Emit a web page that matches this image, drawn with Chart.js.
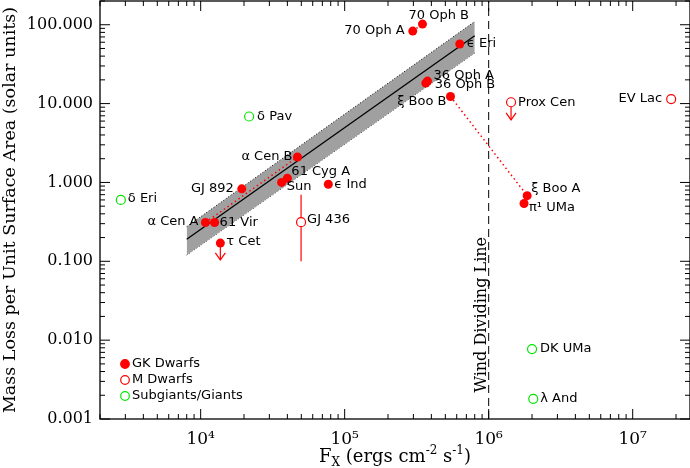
<!DOCTYPE html>
<html>
<head>
<meta charset="utf-8">
<script src="https://cdn.jsdelivr.net/npm/chart.js@4.4.0/dist/chart.umd.min.js"></script>
<style>
  html, body { margin: 0; padding: 0; background: #fff; }
</style>
</head>
<body>
<canvas id="massLoss" width="690" height="468"></canvas>
<script>
// values (Fx in ergs cm^-2 s^-1, mass loss in solar units)
const gkNames = ['70 Oph A', '70 Oph B', 'ϵ Eri', '36 Oph A', '36 Oph B', 'ξ Boo B', 'α Cen B', '61 Cyg A',
  'Sun', 'GJ 892', 'ϵ Ind', 'α Cen A', '61 Vir', 'τ Cet', 'ξ Boo A', 'π¹ UMa'];
const gkFx = [2.97e5, 3.47e5, 6.3e5, 3.76e5, 3.66e5, 5.43e5, 4.7e4, 4.0e4,
  3.65e4, 1.93e4, 7.7e4, 1.08e4, 1.25e4, 1.37e4, 1.85e6, 1.76e6];
const gkMdot = [83, 102, 57, 19.3, 18.2, 12.3, 2.1, 1.13,
  1.0, 0.83, 0.95, 0.31, 0.31, 0.17, 0.68, 0.54];

const mNames = ['Prox Cen', 'EV Lac', 'GJ 436'];
const mFx = [1.43e6, 1.85e7, 4.98e4];
const mMdot = [10.4, 11.4, 0.313];

const giantNames = ['δ Pav', 'δ Eri', 'DK UMa', 'λ And'];
const giantFx = [2.17e4, 2790, 2.0e6, 2.04e6];
const giantMdot = [6.86, 0.60, 0.0077, 0.0018];

// power law fit and its uncertainty band
const fitFx = [8e3, 8e5];
const fitMdot = [0.19, 72.5];
const bandLow = [0.12, 43.8];
const bandHigh = [0.275, 110];

// pairs joined by a dotted line
const pairs = [['70 Oph A', '70 Oph B'], ['α Cen A', 'α Cen B'], ['ξ Boo B', 'ξ Boo A'], ['36 Oph A', '36 Oph B']];

// upper limits (arrows) and the GJ 436 error bar
const limFx = [1.37e4, 1.43e6];
const limFrom = [0.17, 10.4];
const limTo = [0.104, 6.2];
const errFx = 4.98e4;
const errRange = [0.1, 0.7];

const windFx = 1e6;

const xTickVals = [1e4, 1e5, 1e6, 1e7];
const xTickText = ['10⁴', '10⁵', '10⁶', '10⁷'];
const yTickVals = [0.001, 0.01, 0.1, 1, 10, 100];
const yTickText = ['0.001', '0.010', '0.100', '1.000', '10.000', '100.000'];

const serif = "'DejaVu Serif', serif";
const sans = "'DejaVu Sans', sans-serif";
const RED = '#ff0000';
const GREEN = '#00e600';

// label offsets from the marker: dx, dy, align
const labelPos = {
  '70 Oph A': [-8, 0, 'right'], '70 Oph B': [-14, -8, 'left'], 'ϵ Eri': [7, 0, 'left'],
  '36 Oph A': [6, -5, 'left'], '36 Oph B': [9, 2, 'left'], 'ξ Boo B': [-4, 5, 'right'],
  'α Cen B': [-5, 0, 'right'], '61 Cyg A': [4, -7, 'left'], 'Sun': [5, 4, 'left'],
  'GJ 892': [-8, 0, 'right'], 'ϵ Ind': [6, 0, 'left'], 'α Cen A': [-7, -1, 'right'],
  '61 Vir': [5, 0, 'left'], 'τ Cet': [6, -1, 'left'], 'ξ Boo A': [4, -7, 'left'],
  'π¹ UMa': [5, 4, 'left'], 'Prox Cen': [7, 0, 'left'], 'EV Lac': [-9, 0, 'right'],
  'GJ 436': [6, -3, 'left'], 'δ Pav': [8, 0, 'left'], 'δ Eri': [7, -1, 'left'],
  'DK UMa': [8, 0, 'left'], 'λ And': [7, 0, 'left']
};

const pts = (xs, ys) => xs.map((x, i) => ({ x: x, y: ys[i] }));
const findPt = (name) => {
  let i = gkNames.indexOf(name);
  return { x: gkFx[i], y: gkMdot[i] };
};
const tickText = (vals, texts, v) => {
  const i = vals.findIndex(t => Math.abs(t - v) / t < 1e-6);
  return i >= 0 ? texts[i] : '';
};

const datasets = [
  { label: 'GK', names: gkNames, data: pts(gkFx, gkMdot), pointRadius: 4.5,
    backgroundColor: RED, borderColor: RED, borderWidth: 0, showLine: false },
  { label: 'M', names: mNames, data: pts(mFx, mMdot), pointRadius: 4.5,
    backgroundColor: '#fff', borderColor: RED, borderWidth: 1.2, showLine: false },
  { label: 'Giants', names: giantNames, data: pts(giantFx, giantMdot), pointRadius: 4.5,
    backgroundColor: '#fff', borderColor: GREEN, borderWidth: 1.2, showLine: false }
];
limFx.forEach((fx, i) => {
  datasets.push({ label: 'limit', arrow: true, data: [{ x: fx, y: limFrom[i] }, { x: fx, y: limTo[i] }],
    showLine: true, pointRadius: 0, borderColor: RED, borderWidth: 1.2 });
});
datasets.push({ label: 'err', data: [{ x: errFx, y: errRange[0] }, { x: errFx, y: errRange[1] }],
  showLine: true, pointRadius: 0, borderColor: RED, borderWidth: 1.2 });
pairs.forEach(p => {
  datasets.push({ label: 'pair', data: [findPt(p[0]), findPt(p[1])], showLine: true, pointRadius: 0,
    borderColor: RED, borderWidth: 1.5, borderDash: [1.5, 3] });
});
datasets.push({ label: 'fit', data: pts(fitFx, fitMdot), showLine: true, pointRadius: 0,
  borderColor: '#000', borderWidth: 1.3 });
datasets.push({ label: 'wind', data: [{ x: windFx, y: 0.001 }, { x: windFx, y: 200 }], showLine: true,
  pointRadius: 0, borderColor: '#000', borderWidth: 1, borderDash: [8, 5] });
datasets.push({ type: 'line', label: 'bandHigh', data: pts(fitFx, bandHigh), pointRadius: 0,
  borderColor: '#000', borderWidth: 1, borderDash: [1, 2], fill: '+1', backgroundColor: '#a0a0a0' });
datasets.push({ type: 'line', label: 'bandLow', data: pts(fitFx, bandLow), pointRadius: 0,
  borderColor: '#000', borderWidth: 1, borderDash: [1, 2], fill: false });

// frame with inward ticks on all four sides, like the original plot
const frame = {
  id: 'frame',
  afterDatasetsDraw(chart) {
    const { ctx, chartArea: a, scales: { x, y } } = chart;
    ctx.save();
    ctx.strokeStyle = '#000';
    ctx.lineWidth = 1.3;
    ctx.strokeRect(a.left, a.top, a.right - a.left, a.bottom - a.top);
    ctx.lineWidth = 1;
    ctx.beginPath();
    const each = (scale, fn) => {
      for (let e = Math.floor(Math.log10(scale.min)); e <= Math.ceil(Math.log10(scale.max)); e++) {
        for (let m = 1; m <= 9; m++) {
          const v = m * Math.pow(10, e);
          if (v < scale.min * 0.999 || v > scale.max * 1.001) continue;
          fn(scale.getPixelForValue(v), m === 1 ? 10 : 5);
        }
      }
    };
    each(x, (px, len) => {
      ctx.moveTo(px, a.bottom); ctx.lineTo(px, a.bottom - len);
      ctx.moveTo(px, a.top); ctx.lineTo(px, a.top + len);
    });
    each(y, (py, len) => {
      ctx.moveTo(a.left, py); ctx.lineTo(a.left + len, py);
      ctx.moveTo(a.right, py); ctx.lineTo(a.right - len, py);
    });
    ctx.stroke();
    ctx.restore();
  }
};

const annotations = {
  id: 'annotations',
  afterDraw(chart) {
    const { ctx, chartArea: a, scales: { x, y } } = chart;
    ctx.save();

    // arrow heads on upper limits
    ctx.strokeStyle = RED;
    ctx.lineWidth = 1.2;
    chart.data.datasets.forEach((ds, i) => {
      if (!ds.arrow) return;
      const tip = chart.getDatasetMeta(i).data[1];
      ctx.beginPath();
      ctx.moveTo(tip.x - 5, tip.y - 7);
      ctx.lineTo(tip.x, tip.y);
      ctx.lineTo(tip.x + 5, tip.y - 7);
      ctx.stroke();
    });

    // star names
    ctx.fillStyle = '#000';
    ctx.font = '13px ' + sans;
    ctx.textBaseline = 'middle';
    chart.data.datasets.forEach((ds, i) => {
      if (!ds.names) return;
      chart.getDatasetMeta(i).data.forEach((el, j) => {
        const p = labelPos[ds.names[j]];
        ctx.textAlign = p[2];
        ctx.fillText(ds.names[j], el.x + p[0], el.y + p[1]);
      });
    });

    // wind dividing line label
    const wx = x.getPixelForValue(windFx);
    ctx.save();
    ctx.translate(wx - 3, y.getPixelForValue(0.021));
    ctx.rotate(-Math.PI / 2);
    ctx.font = '16px ' + serif;
    ctx.textAlign = 'center';
    ctx.textBaseline = 'alphabetic';
    ctx.fillText('Wind Dividing Line', 0, 0);
    ctx.restore();

    // legend
    const legend = [
      ['GK Dwarfs', RED, RED],
      ['M Dwarfs', '#fff', RED],
      ['Subgiants/Giants', '#fff', GREEN]
    ];
    ctx.font = '13px ' + sans;
    ctx.textAlign = 'left';
    ctx.textBaseline = 'middle';
    legend.forEach((row, i) => {
      const ly = 364 + i * 16;
      ctx.beginPath();
      ctx.arc(125, ly, 4.3, 0, Math.PI * 2);
      ctx.fillStyle = row[1];
      ctx.fill();
      ctx.strokeStyle = row[2];
      ctx.lineWidth = 1.2;
      ctx.stroke();
      ctx.fillStyle = '#000';
      ctx.fillText(row[0], 132, ly);
    });

    // x axis title with sub/superscripts
    const parts = [['F', 18, 0], ['X', 12, 4], [' (ergs cm', 18, 0], ['-2', 12, -8],
      [' s', 18, 0], ['-1', 12, -8], [')', 18, 0]];
    let w = 0;
    parts.forEach(p => { ctx.font = p[1] + 'px ' + serif; w += ctx.measureText(p[0]).width; });
    let cx = (a.left + a.right) / 2 - w / 2;
    ctx.textBaseline = 'alphabetic';
    parts.forEach(p => {
      ctx.font = p[1] + 'px ' + serif;
      ctx.fillText(p[0], cx, 462 + p[2]);
      cx += ctx.measureText(p[0]).width;
    });
    ctx.restore();
  }
};

Chart.defaults.color = '#000';

new Chart(document.getElementById('massLoss'), {
  type: 'scatter',
  data: { datasets: datasets },
  options: {
    responsive: false,
    animation: false,
    layout: { autoPadding: false, padding: { top: 1, right: 0, left: 0, bottom: 0 } },
    plugins: { legend: { display: false }, tooltip: { enabled: false } },
    scales: {
      x: {
        type: 'logarithmic',
        min: 2000,
        max: 2.5e7,
        grid: { display: false, drawTicks: false },
        border: { display: false },
        ticks: {
          autoSkip: false,
          maxRotation: 0,
          padding: 10,
          font: { family: serif, size: 17 },
          callback: (v) => tickText(xTickVals, xTickText, v)
        },
        afterFit: (s) => { s.height = 49; s.paddingLeft = 0; s.paddingRight = 0; }
      },
      y: {
        type: 'logarithmic',
        min: 0.001,
        max: 200,
        grid: { display: false, drawTicks: false },
        border: { display: false },
        ticks: {
          autoSkip: false,
          padding: 7,
          font: { family: serif, size: 16 },
          callback: (v) => tickText(yTickVals, yTickText, v)
        },
        title: {
          display: true,
          text: 'Mass Loss per Unit Surface Area (solar units)',
          font: { family: serif, size: 17.5 },
          padding: { top: 0, bottom: 0 }
        },
        afterFit: (s) => { s.width = 100; s.paddingTop = 0; s.paddingBottom = 0; }
      }
    }
  },
  plugins: [frame, annotations]
});
</script>
</body>
</html>
